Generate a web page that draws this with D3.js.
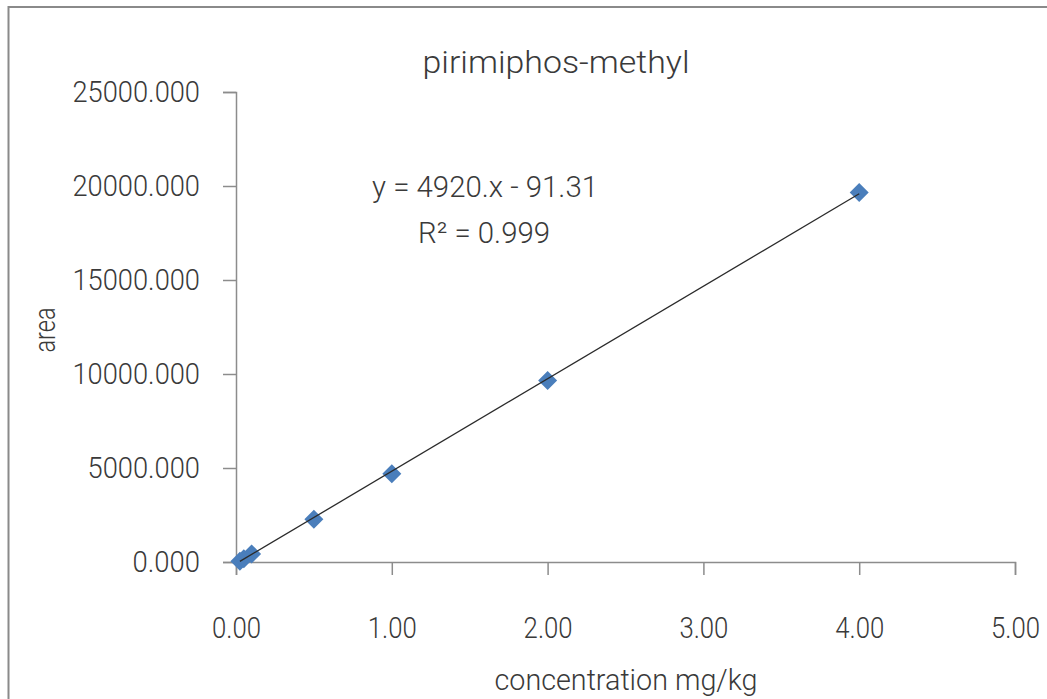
<!DOCTYPE html>
<html>
<head>
<meta charset="utf-8">
<script src="https://cdn.jsdelivr.net/npm/d3@7"></script>
<style>
  html, body { margin: 0; padding: 0; background: #fff; }
  svg { display: block; }
  text { font-family: Roboto, "Liberation Sans", sans-serif; font-weight: 300; fill: #3a3a3a; }
</style>
</head>
<body>
<svg id="chart" width="1047" height="699"></svg>
<script>
// Calibration standards: concentration (mg/kg) vs peak area
const concentration = [0.025, 0.05, 0.1, 0.5, 1, 2, 4];
const area = [40, 170, 430, 2270, 4690, 9650, 19660];

// Linear fit shown on the chart
const slope = 4920;
const intercept = -91.31;
const rSquared = 0.999;

const xTicks = [0, 1, 2, 3, 4, 5];
const yTicks = [0, 5000, 10000, 15000, 20000, 25000];

const svg = d3.select("#chart");

// narrow numerals: width from digit count
function numWidth(str, digit) {
  let w = 0;
  for (const ch of str) w += (ch === ".") ? digit * 0.5 : digit;
  return w;
}
function squeeze(sel, width) {
  sel.attr("textLength", width).attr("lengthAdjust", "spacingAndGlyphs");
}

// outer chart frame
svg.append("rect")
  .attr("x", 8.5).attr("y", 7)
  .attr("width", 1100).attr("height", 760)
  .attr("fill", "none").attr("stroke", "#8a8a8a").attr("stroke-width", 2);

const x = d3.scaleLinear().domain([0, 5]).range([236, 1015]);
const y = d3.scaleLinear().domain([0, 25000]).range([562, 92]);

const axisColor = "#8c8c8c";

const xAxis = svg.append("g")
  .attr("transform", `translate(0,${y(0)})`)
  .call(d3.axisBottom(x).tickValues(xTicks).tickSize(13).tickPadding(42)
    .tickFormat(d3.format(".2f")));
const yAxis = svg.append("g")
  .attr("transform", `translate(${x(0)},0)`)
  .call(d3.axisLeft(y).tickValues(yTicks).tickSize(13).tickPadding(23)
    .tickFormat(d3.format(".3f")));

[xAxis, yAxis].forEach(g => {
  g.select(".domain").attr("stroke", axisColor).attr("stroke-width", 1.5);
  g.selectAll(".tick line").attr("stroke", axisColor).attr("stroke-width", 1.5);
  g.selectAll(".tick text")
    .style("font-family", 'Roboto, "Liberation Sans", sans-serif')
    .style("font-weight", 300)
    .attr("font-size", 30).attr("fill", "#3a3a3a");
});
xAxis.selectAll(".tick text").each(function () {
  squeeze(d3.select(this), numWidth(this.textContent, 14));
});
yAxis.selectAll(".tick text").each(function () {
  squeeze(d3.select(this), numWidth(this.textContent, 15));
});

// diamond markers
const pts = concentration.map((c, i) => ({ c, a: area[i] }));
svg.append("g").selectAll("path")
  .data(pts).join("path")
  .attr("transform", d => `translate(${x(d.c)},${y(d.a)})`)
  .attr("d", "M0,-9.5L9.5,0L0,9.5L-9.5,0Z")
  .attr("fill", "#4a7ebb");

// fitted trendline across the data range, on top of the markers
const xMin = d3.min(concentration), xMax = d3.max(concentration);
svg.append("line")
  .attr("x1", x(xMin)).attr("y1", y(slope * xMin + intercept))
  .attr("x2", x(xMax)).attr("y2", y(slope * xMax + intercept))
  .attr("stroke", "#2b2b2b").attr("stroke-width", 1.3);

// title
squeeze(svg.append("text")
  .attr("x", 556).attr("y", 73)
  .attr("text-anchor", "middle").attr("font-size", 31)
  .text("pirimiphos-methyl"), 267);

// fit equation
squeeze(svg.append("text")
  .attr("x", 485).attr("y", 197)
  .attr("text-anchor", "middle").attr("font-size", 30)
  .text(`y = ${slope}.x - ${Math.abs(intercept)}`), 226);
squeeze(svg.append("text")
  .attr("x", 484).attr("y", 243)
  .attr("text-anchor", "middle").attr("font-size", 30)
  .text(`R² = ${rSquared}`), 132);

// axis titles
squeeze(svg.append("text")
  .attr("x", 626).attr("y", 690)
  .attr("text-anchor", "middle").attr("font-size", 30)
  .text("concentration mg/kg"), 263);
squeeze(svg.append("text")
  .attr("transform", "translate(55,330) rotate(-90)")
  .attr("text-anchor", "middle").attr("font-size", 30)
  .text("area"), 45);
</script>
</body>
</html>
